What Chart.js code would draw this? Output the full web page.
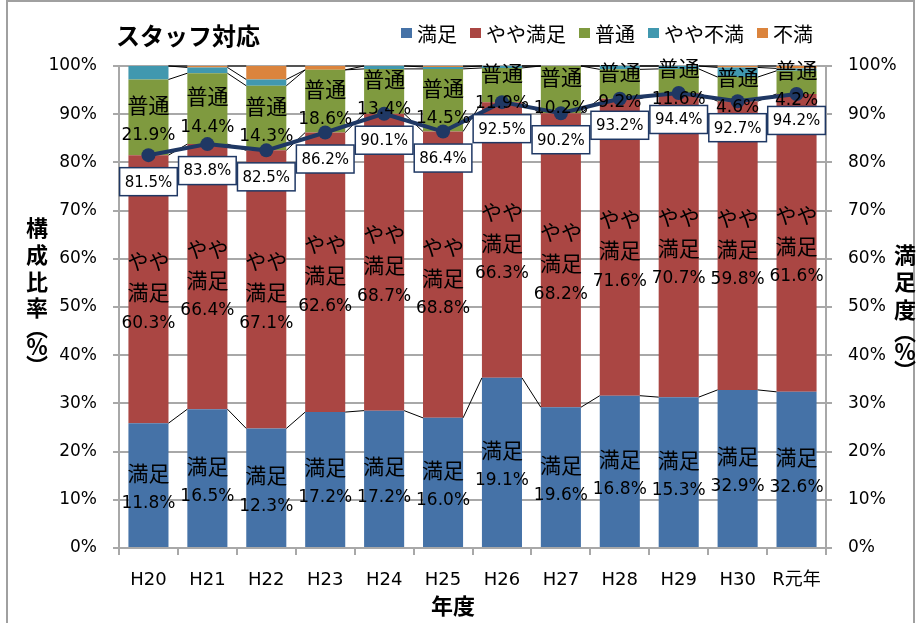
<!DOCTYPE html>
<html>
<head>
<meta charset="utf-8">
<script src="https://cdn.jsdelivr.net/npm/chart.js@4/dist/chart.umd.min.js"></script>
<style>
  html, body { margin: 0; padding: 0; background: #fff; }
  #wrap { width: 917px; height: 623px; position: relative; }
</style>
</head>
<body>
<div id="wrap"><canvas id="staffChart" width="917" height="623"></canvas></div>
<script>
// categories and values
const years = ['H20', 'H21', 'H22', 'H23', 'H24', 'H25', 'H26', 'H27', 'H28', 'H29', 'H30', 'R元年'];

// bar segment heights (%)
const satisfied     = [25.9, 28.8, 24.8, 28.2, 28.5, 27.0, 35.3, 29.2, 31.6, 31.3, 32.8, 32.4];
const fairlySat     = [55.6, 55.0, 57.7, 58.0, 61.6, 59.4, 57.2, 61.0, 61.6, 63.1, 59.9, 61.8];
const neutral       = [15.7, 14.7, 13.4, 13.0, 9.3, 13.0, 7.1, 9.8, 6.1, 5.0, 5.0, 4.8];
const fairlyUnsat   = [2.8, 1.2, 1.3, 0.0, 0.6, 0.4, 0.4, 0.0, 0.7, 0.6, 2.0, 0.5];
const unsatisfied   = [0.0, 0.3, 2.8, 0.8, 0.0, 0.2, 0.0, 0.0, 0.0, 0.0, 0.3, 0.5];

// satisfaction line (right axis)
const satisfaction  = [81.5, 83.8, 82.5, 86.2, 90.1, 86.4, 92.5, 90.2, 93.2, 94.4, 92.7, 94.2];

// numbers printed inside the bars
const satisfiedText = [11.8, 16.5, 12.3, 17.2, 17.2, 16.0, 19.1, 19.6, 16.8, 15.3, 32.9, 32.6];
const fairlySatText = [60.3, 66.4, 67.1, 62.6, 68.7, 68.8, 66.3, 68.2, 71.6, 70.7, 59.8, 61.6];
const neutralText   = [21.9, 14.4, 14.3, 18.6, 13.4, 14.5, 11.9, 10.2, 9.2, 11.6, 4.6, 4.2];

const LATIN = '"DejaVu Sans", "Noto Sans CJK JP", sans-serif';
const CJK = '"Noto Sans CJK JP", sans-serif';
const GRID = '#a8a8a8';
const NAVY = '#1f3864';

function isCJK(s) {
    return /[\u3000-\u9fff\uff00-\uffef]/.test(s);
}

const chartPlugin = {
    id: 'staffExtras',
    beforeDraw(chart) {
        const ctx = chart.ctx;
        ctx.save();
        ctx.fillStyle = '#fff';
        ctx.fillRect(0, 0, chart.width, chart.height);
        ctx.strokeStyle = '#a0a0a0';
        ctx.lineWidth = 2;
        ctx.strokeRect(7, 1, 907, 650);
        ctx.restore();
    },
    // series lines between stacked bars, drawn before the line series
    beforeDatasetDraw(chart, args) {
        if (args.meta.type !== 'line') return;
        const ctx = chart.ctx;
        const y = chart.scales.y;
        const bars = chart.getDatasetMeta(1).data;
        const stacks = [satisfied, fairlySat, neutral, fairlyUnsat, unsatisfied];
        ctx.save();
        ctx.strokeStyle = '#000';
        ctx.lineWidth = 1;
        for (let i = 0; i < years.length - 1; i++) {
            let a = 0, b = 0;
            for (let k = 0; k < stacks.length; k++) {
                a += stacks[k][i];
                b += stacks[k][i + 1];
                ctx.beginPath();
                ctx.moveTo(bars[i].x + bars[i].width / 2, y.getPixelForValue(a));
                ctx.lineTo(bars[i + 1].x - bars[i + 1].width / 2, y.getPixelForValue(b));
                ctx.stroke();
            }
        }
        ctx.restore();
    },
    afterDatasetsDraw(chart) {
        const ctx = chart.ctx;
        ctx.save();
        ctx.fillStyle = '#000';
        ctx.textAlign = 'center';
        ctx.textBaseline = 'middle';

        // labels inside the segments
        const segs = [
            { ds: 1, lines: v => ['満足', v.toFixed(1) + '%'], vals: satisfiedText },
            { ds: 2, lines: v => ['やや', '満足', v.toFixed(1) + '%'], vals: fairlySatText },
            { ds: 3, lines: v => ['普通', v.toFixed(1) + '%'], vals: neutralText }
        ];
        segs.forEach(seg => {
            chart.getDatasetMeta(seg.ds).data.forEach((bar, i) => {
                const rows = seg.lines(seg.vals[i]);
                const mid = (bar.y + bar.base) / 2 + 3;
                rows.forEach((t, j) => {
                    ctx.font = isCJK(t) ? '21px ' + CJK : '17px ' + LATIN;
                    ctx.fillText(t, bar.x, mid + (j - (rows.length - 1) / 2) * 31);
                });
            });
        });

        // boxed labels under the satisfaction markers
        ctx.font = '15px ' + LATIN;
        chart.getDatasetMeta(0).data.forEach((pt, i) => {
            const t = satisfaction[i].toFixed(1) + '%';
            const w = ctx.measureText(t).width + 10;
            const h = 28;
            const top = pt.y + 12.5;
            ctx.fillStyle = '#fff';
            ctx.fillRect(pt.x - w / 2, top, w, h);
            ctx.strokeStyle = NAVY;
            ctx.lineWidth = 1.5;
            ctx.strokeRect(pt.x - w / 2, top, w, h);
            ctx.fillStyle = '#000';
            ctx.fillText(t, pt.x, top + h / 2 + 1);
        });
        ctx.restore();
    },
    afterDraw(chart) {
        const ctx = chart.ctx;
        ctx.save();
        ctx.fillStyle = '#000';

        // title
        ctx.font = 'bold 24px ' + CJK;
        ctx.textAlign = 'left';
        ctx.textBaseline = 'middle';
        ctx.fillText('スタッフ対応', 116, 36);

        // legend
        let x = 401;
        ctx.font = '20px ' + CJK;
        chart.data.datasets.slice(1).forEach(ds => {
            ctx.fillStyle = ds.backgroundColor;
            ctx.fillRect(x, 28, 11, 10);
            ctx.fillStyle = '#000';
            ctx.fillText(ds.label, x + 16, 34);
            x += 16 + ctx.measureText(ds.label).width + 13;
        });

        // axis titles, written vertically
        ctx.font = 'bold 22px ' + CJK;
        ctx.textAlign = 'center';
        const leftTitle = ['構', '成', '比', '率', '︵', '%', '︶'];
        const leftY = [228, 255, 282, 308, 328, 347, 366];
        leftTitle.forEach((c, i) => ctx.fillText(c, 37, leftY[i]));
        const rightTitle = ['満', '足', '度', '︵', '%', '︶'];
        const rightY = [255, 282, 310, 332, 352, 371];
        rightTitle.forEach((c, i) => ctx.fillText(c, 905, rightY[i]));

        ctx.fillText('年度', 453, 606);
        ctx.restore();
    }
};

new Chart(document.getElementById('staffChart'), {
    type: 'bar',
    data: {
        labels: years,
        datasets: [
            {
                type: 'line',
                label: '満足度',
                data: satisfaction,
                yAxisID: 'y2',
                borderColor: NAVY,
                backgroundColor: NAVY,
                borderWidth: 4,
                pointRadius: 7,
                pointBackgroundColor: NAVY,
                pointBorderWidth: 0,
                tension: 0,
                order: 0
            },
            { label: '満足', data: satisfied, backgroundColor: '#4572a7', order: 1 },
            { label: 'やや満足', data: fairlySat, backgroundColor: '#aa4643', order: 1 },
            { label: '普通', data: neutral, backgroundColor: '#7f9a3f', order: 1 },
            { label: 'やや不満', data: fairlyUnsat, backgroundColor: '#4198af', order: 1 },
            { label: '不満', data: unsatisfied, backgroundColor: '#db843d', order: 1 }
        ]
    },
    options: {
        responsive: false,
        animation: false,
        devicePixelRatio: 1,
        layout: { padding: { top: 66, left: 0, right: 0, bottom: 0 } },
        datasets: {
            bar: { categoryPercentage: 1, barPercentage: 0.68, borderWidth: 0 }
        },
        plugins: {
            legend: { display: false },
            tooltip: { enabled: false }
        },
        scales: {
            x: {
                stacked: true,
                grid: { display: true, drawOnChartArea: false, tickLength: 7, color: GRID, lineWidth: 2 },
                border: { color: GRID, width: 2 },
                ticks: { color: '#000', font: { family: LATIN, size: 18 }, padding: 15, maxRotation: 0 },
                afterFit(s) { s.height = 75; }
            },
            y: {
                stacked: true,
                min: 0,
                max: 100,
                position: 'left',
                grid: { color: GRID, lineWidth: 2, tickLength: 6 },
                border: { color: GRID, width: 2 },
                ticks: {
                    stepSize: 10,
                    color: '#000',
                    padding: 16,
                    font: { family: LATIN, size: 17 },
                    callback: v => v + '%'
                },
                afterFit(s) { s.width = 119; }
            },
            y2: {
                min: 0,
                max: 100,
                position: 'right',
                grid: { drawOnChartArea: false, color: GRID, lineWidth: 2, tickLength: 6 },
                border: { color: GRID, width: 2 },
                ticks: {
                    stepSize: 10,
                    color: '#000',
                    padding: 16,
                    font: { family: LATIN, size: 17 },
                    callback: v => v + '%'
                },
                afterFit(s) { s.width = 91; }
            }
        }
    },
    plugins: [chartPlugin]
});
</script>
</body>
</html>
